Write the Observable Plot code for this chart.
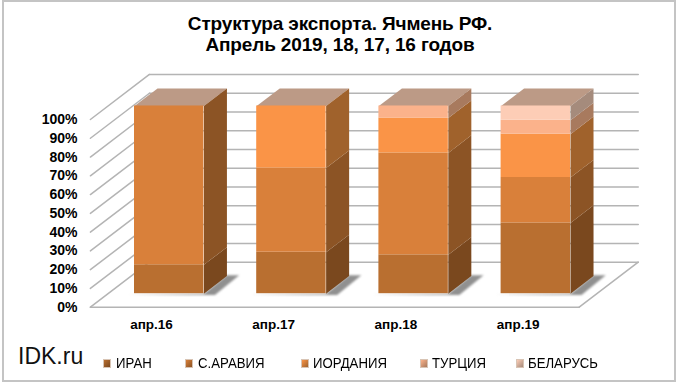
<!DOCTYPE html>
<html lang="ru"><head><meta charset="utf-8">
<script src="https://cdn.jsdelivr.net/npm/d3@7"></script>
<script src="https://cdn.jsdelivr.net/npm/@observablehq/plot@0.6"></script>
<style>
html,body{margin:0;padding:0;background:#fff}
#frame{position:absolute;left:2px;top:0;width:670px;height:378px;border:2px solid #c4c4c4;background:#fff;overflow:hidden;font-family:"Liberation Sans",Arial,sans-serif}
#title{position:absolute;left:0;top:11px;width:670px;text-align:center;font-weight:bold;font-size:19px;line-height:21px;letter-spacing:-.15px;color:#000;transform:translateX(1px)}
#chart{position:absolute;left:-4px;top:56px;width:680px;height:275px}
#chart svg{max-width:none}
#brand{position:absolute;left:14px;top:341px;font-size:23px;color:#111}
.lg{position:absolute;top:354px;font-size:14.2px;line-height:15px;color:#000;white-space:nowrap;transform:scaleX(.93);transform-origin:left}
.sw{position:absolute;top:357px;width:6px;height:7px;border:.5px solid #d8c4b4}
</style></head>
<body><div id="frame">
<div id="title">Структура экспорта. Ячмень РФ.<br>Апрель 2019, 18, 17, 16 годов</div>
<div id="chart"></div>
<div id="brand">IDK.ru</div>
<div id="legend"></div>
</div>
<script>
const categories = ["апр.16","апр.17","апр.18","апр.19"];
const seriesNames = ["ИРАН","С.АРАВИЯ","ИОРДАНИЯ","ТУРЦИЯ","БЕЛАРУСЬ"];
const iran     = [15.4, 22.1, 20.7, 37.7];
const saudi    = [84.6, 44.8, 54.3, 24.2];
const jordan   = [0,    33.1, 18.6, 23.1];
const turkey   = [0,    0,    6.4,  7.4];
const belarus  = [0,    0,    0,    7.6];
const yTicks = [0,10,20,30,40,50,60,70,80,90,100];
const frontColors = ["#b96f30","#d9803a","#fa9447","#fbb28b","#fdcdb6"];
const sideColors  = ["#7a481e","#8c5425","#a0622c","#a87a5e","#a58b7c"];
const topColor = "#bc9a86";
const gridColor = "#b4b4b4";
const allSeries = [iran,saudi,jordan,turkey,belarus];

// oblique projection of the depth axis onto the x (band units) and y (percent) scales
const depthX = 0.483, depthY = 24;
const px = (x,d)=>x+d*depthX, py = (v,d)=>v+d*depthY;
const halfW = 0.284, d0 = 0.3, d1 = 0.69;

const stacks = [];
categories.forEach((c,i)=>{
  let base = 0;
  allSeries.forEach((s,k)=>{ if(s[i]>0){ stacks.push({i,k,y1:base,y2:base+s[i]}); base+=s[i]; } });
});
const poly=(id,fill,pts)=>pts.map(p=>({id,fill,x:p[0],y:p[1]}));
const faces=[], shadows=[];
categories.forEach((c,i)=>{
  const xr=i+halfW, xl=i-halfW;
  faces.push(...poly("top"+i,topColor,[[px(xl,d0),py(100,d0)],[px(xr,d0),py(100,d0)],[px(xr,d1),py(100,d1)],[px(xl,d1),py(100,d1)]]));
  shadows.push(...poly("sh"+i,"#909090",[[px(xl,d0)-.05,py(0,d0)-.7],[px(xr,d0)+.09,py(0,d0)-.7],[px(xr,d1)+.1,py(0,d1)+.5],[px(xr,d1),py(0,d1)+.5],[px(xr,d0),py(0,d0)]]));
});
stacks.forEach((s,n)=>{
  const xr=s.i+halfW;
  faces.push(...poly("side"+n,sideColors[s.k],[[px(xr,d0),py(s.y1,d0)],[px(xr,d1),py(s.y1,d1)],[px(xr,d1),py(s.y2,d1)],[px(xr,d0),py(s.y2,d0)]]));
});
const lines=[];
yTicks.forEach(v=>{
  lines.push({id:"b"+v,x:px(-.5,1),y:py(v,1)},{id:"b"+v,x:px(3.5,1),y:py(v,1)});
  lines.push({id:"l"+v,x:px(-.5,0),y:py(v,0)},{id:"l"+v,x:px(-.5,1),y:py(v,1)});
});
lines.push({id:"f",x:-.5,y:0},{id:"f",x:3.5,y:0},{id:"r",x:3.5,y:0},{id:"r",x:px(3.5,1),y:py(0,1)});

const W=680,H=275,X0=151,XS=122.2,Y0=248.7,YS=1.877;
const plot = Plot.plot({
  width:W,height:H,margin:0,
  x:{type:"linear",domain:[-X0/XS,(W-X0)/XS],range:[0,W]},
  y:{type:"linear",domain:[(Y0-H)/YS,Y0/YS],range:[H,0]},
  color:{type:"identity"},
  style:{background:"transparent",fontFamily:'"Liberation Sans",Arial,sans-serif'},
  marks:[
    Plot.line(lines,{x:"x",y:"y",z:"id",stroke:gridColor,strokeWidth:1.5}),
    Plot.line(shadows,{x:"x",y:"y",z:"id",fill:"fill",stroke:"none",imageFilter:"blur(1px)"}),
    Plot.line(faces,{x:"x",y:"y",z:"id",fill:"fill",stroke:"none"}),
    Plot.rect(stacks,{x1:d=>px(d.i-halfW,d0),x2:d=>px(d.i+halfW,d0),y1:d=>py(d.y1,d0),y2:d=>py(d.y2,d0),fill:d=>frontColors[d.k],inset:0}),
    Plot.axisY(yTicks,{anchor:"left",tickSize:0,tickPadding:0,dx:77,tickFormat:d=>d+"%",fontWeight:"bold",fontSize:14,dy:0,color:"#000",label:null}),
    Plot.axisX([0,1,2,3],{anchor:"bottom",tickSize:0,tickPadding:0,dy:-14,tickFormat:d=>categories[d],fontWeight:"bold",fontSize:13.5,color:"#000",label:null})
  ]
});
document.getElementById("chart").appendChild(plot);

const lgX=[[99,112],[181,194],[297,309],[416,428],[512,524]];
const lg=document.getElementById("legend");
seriesNames.forEach((n,k)=>{
  const sw=document.createElement("div");
  sw.className="sw";sw.style.left=lgX[k][0]+"px";
  sw.style.background=`linear-gradient(135deg,${frontColors[k]},${sideColors[k]})`;
  lg.appendChild(sw);
  const t=document.createElement("div");
  t.className="lg";t.style.left=lgX[k][1]+"px";t.textContent=n;
  lg.appendChild(t);
});
</script></body></html>
